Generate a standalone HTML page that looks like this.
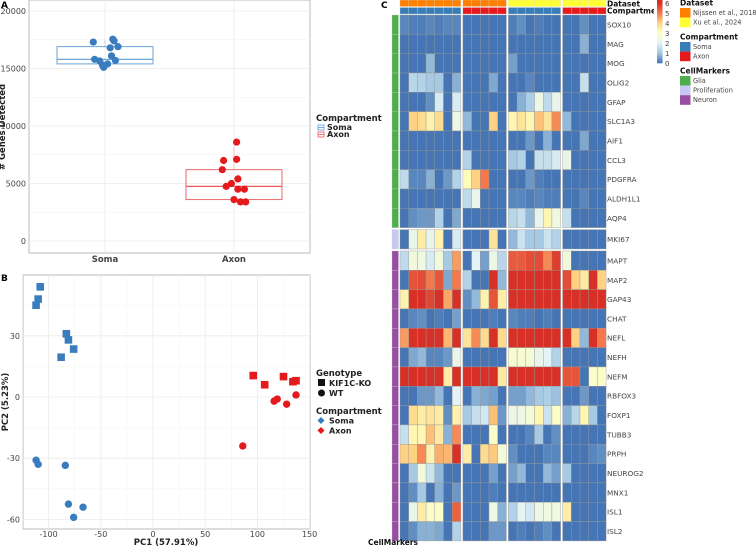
<!DOCTYPE html>
<html><head><meta charset="utf-8">
<style>
body{margin:0;background:#fff;width:756px;height:546px;overflow:hidden;font-family:"Liberation Sans","DejaVu Sans",sans-serif}
svg{position:absolute;left:0;top:0}
text{font-family:"DejaVu Sans","Liberation Sans",sans-serif}
</style></head><body>
<svg id="fig" width="756" height="546" xmlns="http://www.w3.org/2000/svg"></svg>
<script>
// ---------- Panel A data ----------
const boxCats = ["Soma","Axon"];
const boxStats = [[15400,15800,16900,17500,15100],[3600,4750,6200,8600,3400]]; // q1, median, q3, max whisker, min
const somaGenes = [17300,17550,17400,16900,16800,16100,15800,15650,15300,15100,15400,15700];
const somaJit = [-0.09,0.06,0.07,0.10,0.04,0.05,-0.08,-0.04,-0.02,-0.01,0.02,0.08];
const axonGenes = [7000,8600,7100,6200,5400,5000,4750,4500,4500,3600,3400,3400];
const axonJit = [-0.08,0.02,0.02,-0.09,0.03,-0.02,-0.06,0.03,0.08,0.00,0.05,0.09];
const aTicks = [0,5000,10000,15000,20000];
// ---------- Panel B data ----------
const pcSomaKO_x = [-108,-110,-112,-83,-81,-76,-88];
const pcSomaKO_y = [54,48,45,31,28,23.5,19.5];
const pcSomaWT_x = [-112,-110,-84,-81,-67,-76];
const pcSomaWT_y = [-31,-33,-33.5,-52.5,-54,-59];
const pcAxonKO_x = [96,107,125,134,137];
const pcAxonKO_y = [10.5,6,10,7.5,8];
const pcAxonWT_x = [116,119,137,128,86];
const pcAxonWT_y = [-2,-1,1,-3.5,-24];
const bXTicks = [-100,-50,0,50,100,150];
const bYTicks = [-60,-30,0,30];
// ---------- Panel C data ----------
const genes = ["SOX10","MAG","MOG","OLIG2","GFAP","SLC1A3","AIF1","CCL3","PDGFRA","ALDH1L1","AQP4","MKI67","MAPT","MAP2","GAP43","CHAT","NEFL","NEFH","NEFM","RBFOX3","FOXP1","TUBB3","PRPH","NEUROG2","MNX1","ISL1","ISL2"];
const geneMarker = ["Glia","Glia","Glia","Glia","Glia","Glia","Glia","Glia","Glia","Glia","Glia","Proliferation","Neuron","Neuron","Neuron","Neuron","Neuron","Neuron","Neuron","Neuron","Neuron","Neuron","Neuron","Neuron","Neuron","Neuron","Neuron"];
const groupSizes = [7,5,6,5];
const groupDataset = ["Nijssen et al., 2018","Nijssen et al., 2018","Xu et al., 2024","Xu et al., 2024"];
const groupCompartment = ["Soma","Axon","Soma","Axon"];
const expr = [
[0.2,0.1,0.1,0.2,0.1,0.2,0.2, 0,0,0,0,0, 0.1,0.3,0,0.1,0,0, 0,0,0.3,0,0],
[0,0,0,0,0,0,0, 0,0,0,0,0, 0,0,0,0,0,0, 0,0,0.7,0,0],
[0,0,0,0.8,0,0,0, 0,0,0,0,0, 0.5,0,0,0,0,0, 0,0,0,0,0],
[0,1.3,1.2,1,1,0,0.7, 0,0,0,0.6,0, 0,0,0.2,0,0,0, 0,0,1.5,0,0],
[0,0,0,0.3,1.8,0,1.8, 0,0,0,0,0, 0,0.7,1.1,2.3,1.4,2.2, 0,0,0,0,0],
[0,4,3.8,3.3,3.8,0,2.3, 0.8,0,0,4,0, 3.2,3.6,3.2,4.2,3.6,4.8, 0.8,0,0,0,0],
[0,0,0,0,0,0,0, 0,0,0,0,0, 0,0,0.4,0,0.7,0, 0,0,0.6,0,0],
[0,0,0,0,0,0,0, 1.2,0,0,0,0, 1,1.2,0,1.5,1.5,1.8, 2.2,0,0,0,0],
[1.4,0.2,0.2,0.7,0,0.4,1.2, 3.1,4,5,0,0, 0,0,0.4,0.1,0,0, 0,0,0,0,0],
[0,0,0,0,0,0,0, 1.4,2.2,0,0,0, 0.2,0.2,0.1,0.2,0.1,0.1, 0,0,0.2,0,0],
[0,0.3,0.4,0.4,1.2,0,0.6, 0,0,0,0,0, 1.3,1.5,0.8,2.2,3.2,2.4, 1.5,0,0,0,0],
[0,2.2,3.4,2.2,3.3,0,1.8, 0,0,0,3.6,0, 0.8,1.6,1,1,1.6,1.2, 0,0,0,0,0],
[1.4,2.5,2.4,1.8,2.5,1,4.6, 0,2,0.5,2.3,1.3, 5.4,5.4,5.6,5.6,4.8,5.8, 2.5,0,0,0,0],
[0,5.5,5.6,5,5.5,0.6,5, 1.2,0,0,6,0.8, 6,6,6,6,6,6, 5.6,4,3.5,6,4],
[3.3,6,6,5.7,6,4.5,6, 0.3,0.8,3.3,5.5,3.4, 6,6,6,6,6,6, 6,6,6,6,6],
[0,0.2,0.3,0,0.1,0,0.5, 0,0,0,0.1,0, 0.2,0.1,0.1,0,0.1,0, 0,0,0,0,0],
[4.6,6,6,6,6,4.3,6, 3.6,4.8,3.8,6,3.8, 6,6,6,6,6,6, 6,4,0.8,6,5],
[0,0.6,0.8,0.2,0.2,0.4,2.2, 0,0,0,0,0, 2.7,2.7,2.6,2.2,2,1.2, 0,0,0,0,0],
[6,6,6,6,6,3.4,6, 6,6,6,6,3.5, 6,6,6,6,6,6, 5.5,5.5,0,2.8,2.8],
[0,0,0.4,0.4,0.8,0,2, 0,0.7,0.6,0.5,0, 0.5,0.5,0.8,1,1.1,0.9, 0,0,0.4,0,0],
[0,3.8,3.4,3.6,3.4,0.3,3.3, 1,1.5,1.7,4.2,0.4, 2.3,2.3,2.6,3.2,1.6,2.9, 0.7,1.3,3.2,1,0],
[1.5,3.2,3.2,4.2,3.5,0.7,4.8, 0,0,0,2.8,0, 0,0,0.2,1,0,0.3, 0,0,0,0,0],
[4,4,4.8,3.3,4.4,4.3,6, 3.4,0,3.8,4.1,2.6, 0.3,0,0,0,0.2,0.2, 0,0,0,0.2,0.3],
[0,1,2.5,1.6,0.8,0,0, 0,0,0,0.5,0, 0.5,0.8,0,0,0.8,0.5, 1,0,0,0,0],
[0,0.3,1,0,0.7,0,0.4, 0,0,0,0.1,0, 0,0,0,0,0,0, 0,0,0,0,0],
[0,2.2,3.4,2.8,2.8,0,5.3, 0,0,0,2.4,0.7, 1.2,2.1,1.7,2.3,2.4,2.4, 3.4,0,0,0,0],
[0,0.3,0.7,0.7,0.6,0,1.2, 0,0,0,0.4,0.4, 0,0.1,0,0.1,0.3,0, 0,0,0,0,0]
];
const scaleTicks = [0,1,2,3,4,5,6];

const NS="http://www.w3.org/2000/svg";
const svg=document.getElementById('fig');
function el(tag,attrs,parent,txt){const e=document.createElementNS(NS,tag);for(const k in attrs)e.setAttribute(k,attrs[k]);if(txt!==undefined)e.textContent=txt;(parent||svg).appendChild(e);return e;}
const BLUE="#3a7dbf",RED="#e41a1c";

// ===== Panel A =====
const gA=el('g',{});

const aX0=29,aX1=310,aY0=0,aY1=253;
const ay=v=>241-(v/20000)*230;
const ax=i=>[105,234][i];
el('rect',{x:aX0,y:aY0,width:aX1-aX0,height:aY1-aY0,fill:'#fff',stroke:'#bbb','stroke-width':1},gA);
[2500,7500,12500,17500].forEach(v=>el('line',{x1:aX0,x2:aX1,y1:ay(v),y2:ay(v),stroke:'#f2f2f2','stroke-width':0.5},gA));
aTicks.forEach(v=>{el('line',{x1:aX0,x2:aX1,y1:ay(v),y2:ay(v),stroke:'#ebebeb','stroke-width':0.8},gA);
 const t=el('text',{x:aX0-3,y:ay(v)+3,'text-anchor':'end','font-size':8,fill:'#444'},gA,String(v));
 });
boxCats.forEach((c,i)=>{el('line',{x1:ax(i),x2:ax(i),y1:aY0,y2:aY1,stroke:'#ebebeb','stroke-width':0.8},gA);
 const t=el('text',{x:ax(i),y:262,'text-anchor':'middle','font-size':8.5,'font-weight':'bold',fill:'#444'},gA,c);
 });
const boxCol=["#5b9bd5","#e8595b"];
boxStats.forEach((s,i)=>{const g=el('g',{},gA);
 
 const cx=ax(i),hw=48;
 el('line',{x1:cx,x2:cx,y1:ay(s[3]),y2:ay(s[2]),stroke:boxCol[i],'stroke-width':0.6,opacity:0.5},g);
 el('line',{x1:cx,x2:cx,y1:ay(s[0]),y2:ay(s[4]),stroke:boxCol[i],'stroke-width':0.6,opacity:0.5},g);
 el('rect',{x:cx-hw,y:ay(s[2]),width:2*hw,height:ay(s[0])-ay(s[2]),fill:'none',stroke:boxCol[i],'stroke-width':0.9},g);
 el('line',{x1:cx-hw,x2:cx+hw,y1:ay(s[1]),y2:ay(s[1]),stroke:boxCol[i],'stroke-width':1.2},g);});
function aPts(vals,jit,i,col,name){vals.forEach((v,k)=>{const c=el('circle',{cx:ax(i)+jit[k]*130,cy:ay(v),r:3.6,fill:col},gA);
 });}
aPts(somaGenes,somaJit,0,BLUE,'soma-point');aPts(axonGenes,axonJit,1,RED,'axon-point');
let t=el('text',{x:5,y:127,'font-size':8.5,'font-weight':'bold',fill:'#222',transform:'rotate(-90 5 127)','text-anchor':'middle'},gA,'# Genes Detected');

t=el('text',{x:1,y:8,'font-size':9,'font-weight':'bold'},gA,'A');
const lA=el('g',{},gA);
el('text',{x:316,y:121,'font-size':8.5,'font-weight':'bold',fill:'#222'},lA,'Compartment');
[["Soma","#5b9bd5",128],["Axon","#e8595b",135]].forEach(r=>{
 el('rect',{x:318,y:r[2]-3,width:6,height:5,fill:'none',stroke:r[1],'stroke-width':0.8},lA);
 el('line',{x1:318,x2:324,y1:r[2]-0.5,y2:r[2]-0.5,stroke:r[1],'stroke-width':0.8},lA);
 el('text',{x:327,y:r[2]+2,'font-size':8,'font-weight':'bold',fill:'#222'},lA,r[0]);});

// ===== Panel B =====
const gB=el('g',{});
const bX0=23,bX1=310,bY0=275,bY1=529;
const bx=v=>153+v*1.044;
const by=v=>397-v*2.04;
el('rect',{x:bX0,y:bY0,width:bX1-bX0,height:bY1-bY0,fill:'#fff',stroke:'#bbb','stroke-width':1},gB);
[-125,-75,-25,25,75,125].forEach(v=>el('line',{x1:bx(v),x2:bx(v),y1:bY0,y2:bY1,stroke:'#f3f3f3','stroke-width':0.5},gB));
[-45,-15,15,45].forEach(v=>el('line',{x1:bX0,x2:bX1,y1:by(v),y2:by(v),stroke:'#f3f3f3','stroke-width':0.5},gB));
bXTicks.forEach(v=>{el('line',{x1:bx(v),x2:bx(v),y1:bY0,y2:bY1,stroke:'#ebebeb','stroke-width':0.8},gB);
 const t=el('text',{x:bx(v),y:537,'text-anchor':'middle','font-size':8,fill:'#444'},gB,String(v));
 });
bYTicks.forEach(v=>{el('line',{x1:bX0,x2:bX1,y1:by(v),y2:by(v),stroke:'#ebebeb','stroke-width':0.8},gB);
 const t=el('text',{x:bX0-3,y:by(v)+3,'text-anchor':'end','font-size':8,fill:'#444'},gB,String(v));
 });
function sq(xs,ys,col,name){xs.forEach((x,k)=>{const r=el('rect',{x:bx(x)-3.8,y:by(ys[k])-3.8,width:7.6,height:7.6,fill:col},gB);
 });}
function ci(xs,ys,col,name){xs.forEach((x,k)=>{const c=el('circle',{cx:bx(x),cy:by(ys[k]),r:3.7,fill:col},gB);
 });}
sq(pcSomaKO_x,pcSomaKO_y,BLUE,'soma-ko-point');ci(pcSomaWT_x,pcSomaWT_y,BLUE,'soma-wt-point');
sq(pcAxonKO_x,pcAxonKO_y,RED,'axon-ko-point');ci(pcAxonWT_x,pcAxonWT_y,RED,'axon-wt-point');
t=el('text',{x:166,y:545,'text-anchor':'middle','font-size':8.5,'font-weight':'bold',fill:'#222'},gB,'PC1 (57.91%)');
t=el('text',{x:8,y:402,'text-anchor':'middle','font-size':8.5,'font-weight':'bold',fill:'#222',transform:'rotate(-90 8 402)'},gB,'PC2 (5.23%)');
t=el('text',{x:1,y:281,'font-size':9,'font-weight':'bold'},gB,'B');
const lB=el('g',{},gB);
el('text',{x:316,y:376,'font-size':8.5,'font-weight':'bold',fill:'#222'},lB,'Genotype');
el('rect',{x:318,y:379,width:7,height:7,fill:'#111'},lB);el('text',{x:329,y:386,'font-size':8,'font-weight':'bold',fill:'#222'},lB,'KIF1C-KO');
el('circle',{cx:321.5,cy:393,r:3.5,fill:'#111'},lB);el('text',{x:329,y:396,'font-size':8,'font-weight':'bold',fill:'#222'},lB,'WT');
el('text',{x:316,y:414,'font-size':8.5,'font-weight':'bold',fill:'#222'},lB,'Compartment');
[["Soma",BLUE,421],["Axon",RED,431]].forEach(r=>{el('rect',{x:318.5,y:r[2]-3,width:5,height:5,fill:r[1],transform:`rotate(45 321 ${r[2]-0.5})`},lB);
 el('text',{x:329,y:r[2]+2.5,'font-size':8,'font-weight':'bold',fill:'#222'},lB,r[0]);});

// ===== Panel C heatmap =====
const gC=el('g',{});
const stops=[[0,[69,117,180]],[1,[166,202,228]],[2,[228,243,246]],[3,[255,255,191]],[4,[254,210,130]],[5,[244,120,75]],[6,[215,48,39]]];
function cmap(v){v=Math.max(0,Math.min(6,v));for(let i=0;i<stops.length-1;i++){if(v<=stops[i+1][0]){const f=(v-stops[i][0]);const a=stops[i][1],b=stops[i+1][1];return `rgb(${a.map((c,k)=>Math.round(c+(b[k]-c)*f)).join(',')})`;}}return 'rgb(215,48,39)';}
const cw=8.7,hx0=400,gap=2;
const colX=[],colGroup=[];
{let x=hx0;groupSizes.forEach((n,g)=>{for(let k=0;k<n;k++){colX.push(x);colGroup.push(g);x+=cw;}x+=gap;});}
const rowH=19.33,gy0=15;
const rowY=[];{let y=gy0;genes.forEach((g,i)=>{if(i>0&&geneMarker[i]!==geneMarker[i-1])y+=2;rowY.push(y);y+=rowH;});}
const dsCol={"Nijssen et al., 2018":"#ff7f00","Xu et al., 2024":"#ffff33"};
const cpCol={"Soma":"#377eb8","Axon":"#e41a1c"};
const mkCol={"Glia":"#4daf4a","Proliferation":"#c6c9f2","Neuron":"#984ea3"};
colX.forEach((x,c)=>{const g=colGroup[c];
 let r=el('rect',{x:x,y:0,width:cw,height:6.5,fill:dsCol[groupDataset[g]],stroke:'#d8d8d8','stroke-width':0.3},gC);
 
 r=el('rect',{x:x,y:7.5,width:cw,height:6.5,fill:cpCol[groupCompartment[g]],stroke:'#d8d8d8','stroke-width':0.3},gC);
 });
genes.forEach((gn,i)=>{
 const y=rowY[i];
 let r=el('rect',{x:392,y:y,width:6.5,height:rowH,fill:mkCol[geneMarker[i]],stroke:'#ccc','stroke-width':0.3},gC);
 
 colX.forEach((x,c)=>{const cell=el('rect',{x:x,y:y,width:cw,height:rowH,fill:cmap(expr[i][c]),stroke:'#999','stroke-width':0.4},gC);
  });
 const tl=el('text',{x:607,y:y+rowH/2+2.8,'font-size':7.3,fill:'#444'},gC,gn);
 });
t=el('text',{x:607,y:6.3,'font-size':7.5,'font-weight':'bold',fill:'#111'},gC,'Dataset');
t=el('text',{x:607,y:13.6,'font-size':7.5,'font-weight':'bold',fill:'#111'},gC,'Compartment');
el('rect',{x:654,y:0,width:12,height:16,fill:'#fff'},gC);
t=el('text',{x:381,y:8,'font-size':9,'font-weight':'bold'},gC,'C');
t=el('text',{x:368,y:545,'font-size':7.5,'font-weight':'bold',fill:'#111'},gC,'CellMarkers');
const cb=el('g',{},gC);
const cbY0=63,cbY1=0;
const cby=v=>cbY0+(cbY1-cbY0)*v/6.3;
for(let k=0;k<63;k++){const v=6.3*(k/63);el('rect',{x:657,y:cby(v+0.1),width:5.5,height:1.3,fill:cmap(v)},cb);}
scaleTicks.forEach(v=>el('text',{x:665,y:cby(v)+2.8,'font-size':7,fill:'#444'},cb,String(v)));
const lC=el('g',{},gC);
function sect(title,y,items){el('text',{x:680,y:y,'font-size':7.5,'font-weight':'bold',fill:'#111'},lC,title);
 items.forEach((it,k)=>{const yy=y+2.5+k*9.6;el('rect',{x:680,y:yy,width:10.5,height:9.6,fill:it[1]},lC);
 el('text',{x:693,y:yy+7,'font-size':6.6,fill:'#444'},lC,it[0]);});}
sect('Dataset',5.5,[["Nijssen et al., 2018","#ff7f00"],["Xu et al., 2024","#ffff33"]]);
sect('Compartment',39.5,[["Soma","#377eb8"],["Axon","#e41a1c"]]);
sect('CellMarkers',73.5,[["Glia","#4daf4a"],["Proliferation","#c6c9f2"],["Neuron","#984ea3"]]);
</script>
</body></html>
